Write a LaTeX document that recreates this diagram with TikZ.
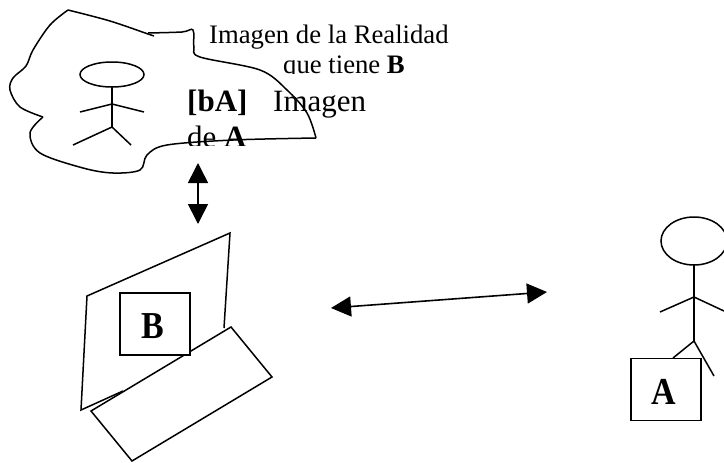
\documentclass[tikz,border=0pt]{standalone}
\usepackage{graphicx}
\usepackage{fontspec}
\setmainfont{Liberation Serif}
\usetikzlibrary{arrows.meta}
\tikzset{
  ink/.style={line width=1.5pt,black,line join=miter},
  lbl/.style={anchor=base west,inner sep=0pt,text=black},
  small/.style={lbl,font=\fontsize{26.7}{26.7}\selectfont},
  big/.style={lbl,font=\fontsize{31}{31}\selectfont},
  tag/.style={draw=black,line width=1.7pt,fill=white,inner sep=0pt,minimum width=70pt,minimum height=62pt},
  tagtext/.style={anchor=base,inner sep=0pt,text=black,font=\fontsize{34}{34}\selectfont\bfseries},
  dbl/.style={line width=1.6pt,{Triangle[length=20pt,width=20pt]}-{Triangle[length=20pt,width=20pt]}}
}
\begin{document}
\begin{tikzpicture}[x=1pt,y=-1pt]
\useasboundingbox (0,0) rectangle (724,463);
\clip (0,0) rectangle (724,463);
% blob
\draw[ink,smooth,tension=0.55] plot coordinates {(154,36) (148,34) (110,21) (68,10)};
\draw[ink,smooth,tension=0.55] plot coordinates {(68,10) (50,25) (33,50) (26,66) (13,78) (10,90) (20,107) (43,117)};
\draw[ink,smooth,tension=0.55] plot coordinates {(43,117) (30,133) (40,153) (83,168) (113,173) (140,170) (147,155) (167,145) (233,140) (316,138)};
\draw[ink,smooth,tension=0.55] plot coordinates {(316,138) (307,113) (287,90) (260,70) (200,57) (194,47) (193,30) (182,32) (148,33)};
% small figure
\draw[ink] (112,74.5) ellipse [x radius=32,y radius=12.5];
\draw[ink] (112,87) -- (112,127);
\draw[ink] (80,112) -- (112,104) -- (144,112);
\draw[ink] (73,145) -- (112,127) -- (131,145);
% texts
\node[small] (t1) at (209,43) {Imagen de la Realidad};
\begin{scope}
\clip (270,50) rectangle (420,73);
\node[small] (t2) at (283,73) {que tiene \textbf{B}};
\end{scope}
\node[big] (t3) at (187,111.5) {\textbf{[bA]}};
\node[big] (t4) at (273,111.5) {Imagen};
\begin{scope}
\clip (180,120) rectangle (260,145.5);
\node[big] (t5) at (187,147) {de \textbf{A}};
\end{scope}
% arrows
\coordinate (v1) at (198,163);
\coordinate (v2) at (198,224);
\draw[dbl] (v1) -- (v2);
\coordinate (h1) at (331,308);
\coordinate (h2) at (547,292);
\draw[dbl] (h1) -- (h2);
% laptop
\draw[ink] (224,328) -- (230,233) -- (87,296) -- (81,410) -- (123,391);
\draw[ink,fill=white] (231,327) -- (272,377) -- (132,461) -- (91,411) -- cycle;
\node[tag,anchor=center] (B) at (155,324) {};
\node[tagtext] (Bt) at (152.5,338) {\scalebox{1}[1.12]{B}};
% figure A
\draw[ink] (694,241) ellipse [x radius=33,y radius=24];
\draw[ink] (694,265) -- (694,341);
\draw[ink] (660,312) -- (694,297) -- (724,311);
\draw[ink] (673,358) -- (694,341) -- (714,376);
\node[tag,anchor=center] (A) at (666,389.5) {};
\node[tagtext] (At) at (664,404) {\scalebox{1}[1.12]{A}};
\end{tikzpicture}
\end{document}
